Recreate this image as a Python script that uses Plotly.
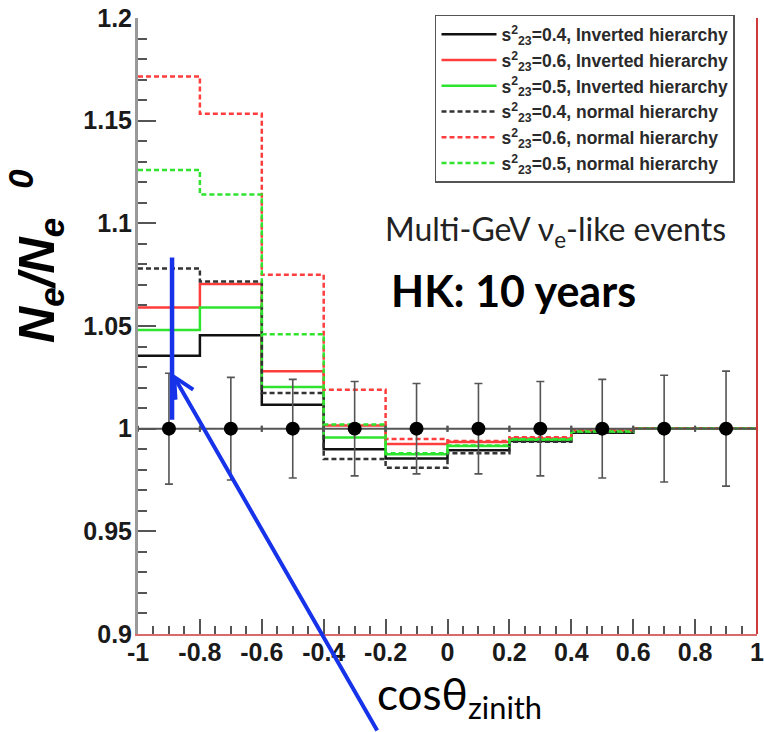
import plotly.graph_objects as go

# ---- data ----
bin_edges = [-1.0, -0.8, -0.6, -0.4, -0.2, 0.0, 0.2, 0.4, 0.6, 0.8, 1.0]
bin_centers = [-0.9, -0.7, -0.5, -0.3, -0.1, 0.1, 0.3, 0.5, 0.7, 0.9]

ih_04 = [1.0355, 1.0455, 1.0117, 0.9900, 0.9855, 0.9895, 0.9940, 0.9980, 1.0000, 1.0000]
ih_06 = [1.0590, 1.0705, 1.0280, 1.0015, 0.9925, 0.9935, 0.9952, 0.9990, 1.0000, 1.0000]
ih_05 = [1.0480, 1.0590, 1.0203, 0.9957, 0.9875, 0.9915, 0.9946, 0.9985, 1.0000, 1.0000]
nh_04 = [1.0780, 1.0717, 1.0174, 0.9852, 0.9810, 0.9880, 0.9936, 0.9983, 1.0000, 1.0000]
nh_06 = [1.1715, 1.1534, 1.0750, 1.0190, 0.9950, 0.9940, 0.9958, 0.9992, 1.0000, 1.0000]
nh_05 = [1.1260, 1.1140, 1.0460, 1.0020, 0.9880, 0.9918, 0.9948, 0.9986, 1.0000, 1.0000]

ref_points = [1.0] * 10
ref_errors = [0.027, 0.025, 0.024, 0.023, 0.022, 0.022, 0.023, 0.024, 0.026, 0.028]
half_bin = [0.1] * 10

series_names = [
    "s<sup>2</sup><sub>23</sub>=0.4, Inverted hierarchy",
    "s<sup>2</sup><sub>23</sub>=0.6, Inverted hierarchy",
    "s<sup>2</sup><sub>23</sub>=0.5, Inverted hierarchy",
    "s<sup>2</sup><sub>23</sub>=0.4, normal hierarchy",
    "s<sup>2</sup><sub>23</sub>=0.6, normal hierarchy",
    "s<sup>2</sup><sub>23</sub>=0.5, normal hierarchy",
]

y_tickvals = [0.9, 0.95, 1.0, 1.05, 1.1, 1.15, 1.2]
y_ticktext = ["0.9", "0.95", "1", "1.05", "1.1", "1.15", "1.2"]
x_tickvals = [-1, -0.8, -0.6, -0.4, -0.2, 0, 0.2, 0.4, 0.6, 0.8, 1]
x_ticktext = ["-1", "-0.8", "-0.6", "-0.4", "-0.2", "0", "0.2", "0.4", "0.6", "0.8", "1"]

# annotation marker (hand-drawn blue line + arrow in the original)
mark_x = -0.89
mark_y_low, mark_y_high = 1.0044, 1.0833
arrow_tip_y = 1.027

# ---- styles ----
RED = "#ff3d3d"
GREEN = "#2fe42f"
BLACK = "#111111"
DGRAY = "#333333"
BLUE = "#1633ea"

fig = go.Figure()

styles = [
    (ih_04, BLACK, "solid"),
    (ih_06, RED, "solid"),
    (ih_05, GREEN, "solid"),
    (nh_04, DGRAY, "5px,3px"),
    (nh_06, RED, "5px,3px"),
    (nh_05, GREEN, "5px,3px"),
]

for (vals, col, dash), name in zip(styles, series_names):
    fig.add_trace(go.Scatter(
        x=bin_edges,
        y=vals + [vals[-1]],
        mode="lines",
        line=dict(color=col, width=2.5, dash=dash, shape="hv"),
        name=name,
    ))

fig.add_trace(go.Scatter(
    x=bin_centers,
    y=ref_points,
    mode="markers",
    marker=dict(color="black", size=14),
    error_y=dict(type="data", array=ref_errors, color="#555555", thickness=1.6, width=4),
    error_x=dict(type="data", array=half_bin, color="#555555", thickness=2, width=3),
    showlegend=False,
))

fig.update_layout(
    width=764,
    height=732,
    margin=dict(l=138, r=7, t=18, b=98, autoexpand=False),
    paper_bgcolor="white",
    plot_bgcolor="white",
    showlegend=True,
    legend=dict(
        x=0.4798, y=1.005, xanchor="left", yanchor="top",
        bgcolor="white", bordercolor="#555555", borderwidth=1.5,
        font=dict(family="Liberation Sans", size=17.5, color="#2a2a2a", weight="bold"),
        itemwidth=55,
        tracegroupgap=0,
    ),
    xaxis=dict(
        range=[-1, 1],
        automargin=False,
        showgrid=False, zeroline=False,
        showline=True, linecolor="#d86a6a", linewidth=2,
        ticks="inside", ticklen=15, tickwidth=1.5, tickcolor="#555555",
        tickvals=x_tickvals, ticktext=x_ticktext,
        ticklabeloverflow="allow",
        ticklabelstandoff=-5,
        tickfont=dict(family="Liberation Sans", size=25, color="#1a1a1a", weight="bold"),
        minor=dict(ticks="inside", ticklen=8, tickwidth=1.5, tickcolor="#555555", dtick=0.05),
    ),
    yaxis=dict(
        range=[0.9, 1.2],
        automargin=False,
        showgrid=False, zeroline=False,
        showline=True, linecolor="#999999", linewidth=3,
        ticks="inside", ticklen=18, tickwidth=1.5, tickcolor="#555555",
        tickvals=y_tickvals, ticktext=y_ticktext,
        ticklabeloverflow="allow",
        ticklabelstandoff=-2,
        tickfont=dict(family="Liberation Sans", size=25, color="#1a1a1a", weight="bold"),
        minor=dict(ticks="inside", ticklen=9, tickwidth=1.5, tickcolor="#555555", dtick=0.01),
    ),
)

# right frame edge (red)
fig.add_shape(type="line", xref="paper", yref="paper", x0=1, x1=1, y0=0, y1=1,
              line=dict(color="#d03a3a", width=2))

# blue vertical marker
fig.add_shape(type="line", xref="x", yref="y", x0=mark_x, x1=mark_x,
              y0=mark_y_low, y1=mark_y_high, line=dict(color=BLUE, width=4.5))

# blue arrow
fig.add_annotation(x=mark_x, y=arrow_tip_y, xref="x", yref="y", text="",
                   showarrow=True, ax=206, ay=360, arrowcolor=BLUE, arrowwidth=4,
                   arrowhead=5, arrowsize=1.0, standoff=0)

# texts
fig.add_annotation(x=0.6737, y=0.654, xref="paper", yref="paper", showarrow=False,
                   xanchor="center", yanchor="middle",
                   text="Multi-GeV ν<sub>e</sub>-like events",
                   font=dict(family="Lato", size=32, color="#222222"))
fig.add_annotation(x=0.6074, y=0.557, xref="paper", yref="paper", showarrow=False,
                   xanchor="center", yanchor="middle",
                   text="<b>HK: 10 years</b>",
                   font=dict(family="Lato", size=43, color="black"))

# axis titles
fig.add_annotation(x=-0.165, y=0.6136, xref="paper", yref="paper", showarrow=False,
                   xanchor="center", yanchor="middle", textangle=-90,
                   text="<b><i>N<sub>e</sub>/N<sub>e</sub><sup>   0</sup></i></b>",
                   font=dict(family="Liberation Sans", size=50, color="black"))
fig.add_annotation(x=0.52, y=-0.102, xref="paper", yref="paper", showarrow=False,
                   xanchor="center", yanchor="middle",
                   text="cosθ<sub>zinith</sub>",
                   font=dict(family="Lato", size=44, color="black"))

fig.write_html("out.html")
